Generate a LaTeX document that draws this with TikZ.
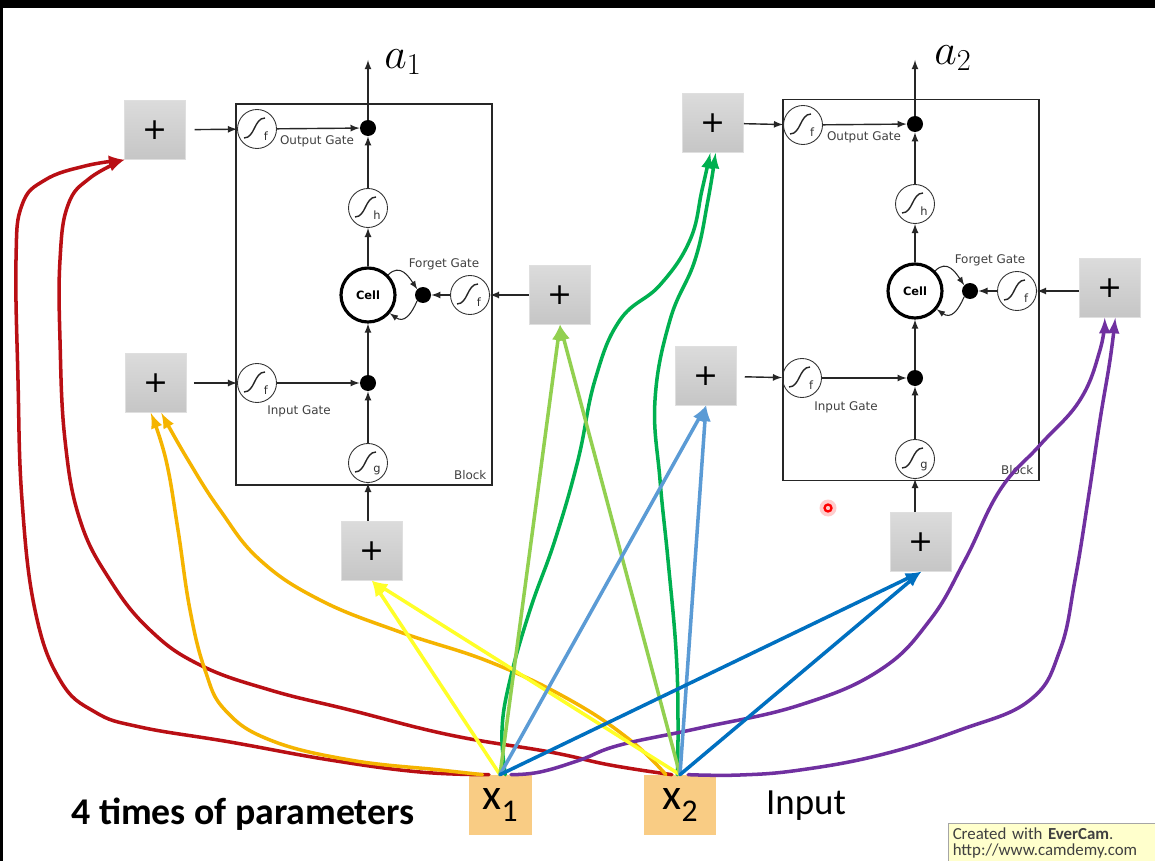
\documentclass[tikz,border=0pt]{standalone}
\usepackage{fontspec}
\newfontfamily\carl{Carlito}
\newfontfamily\dejavu{DejaVu Sans}
\usetikzlibrary{arrows}

\definecolor{xfill}{RGB}{249,204,132}
\definecolor{wmfill}{RGB}{255,255,204}
\definecolor{redc}{RGB}{185,15,20}
\definecolor{orangec}{RGB}{245,180,0}
\definecolor{yellowc}{RGB}{255,255,40}
\definecolor{lgreenc}{RGB}{146,208,80}
\definecolor{dgreenc}{RGB}{0,176,80}
\definecolor{lbluec}{RGB}{91,155,213}
\definecolor{dbluec}{RGB}{0,112,192}
\definecolor{purplec}{RGB}{112,48,160}

\tikzstyle{lstmblock} = [
    rectangle,
    minimum width=5.12cm,
    minimum height=7.62cm,
    line width=0.7pt,
    draw=black!85
]
\tikzstyle{gate} = [
    circle,
    minimum size=0.78cm,
    inner sep=0pt,
    line width=0.5pt,
    draw=black!80
]
\tikzstyle{muldot} = [
    circle,
    minimum size=0.32cm,
    inner sep=0pt,
    fill=black
]
\tikzstyle{cellnode} = [
    circle,
    minimum size=1.08cm,
    inner sep=0pt,
    line width=1.8pt,
    draw=black,
    font=\dejavu\bfseries\fontsize{6.5}{8}\selectfont
]
\tikzstyle{plusbox} = [
    rectangle,
    minimum width=1.22cm,
    minimum height=1.18cm,
    draw=gray!25,
    top color=gray!28,
    bottom color=gray!45,
    font=\dejavu\fontsize{17}{17}\selectfont
]
\tikzstyle{xbox} = [
    rectangle,
    minimum width=1.26cm,
    minimum height=1.2cm,
    fill=xfill,
    font=\carl\fontsize{25}{25}\selectfont
]
\tikzstyle{gatetext} = [font=\dejavu\fontsize{6.8}{8}\selectfont, text=black!75]
\tikzstyle{sigtext} = [font=\dejavu\fontsize{6.5}{7}\selectfont, inner sep=0pt, text=black!80]
\tikzstyle{outtext} = [font=\fontsize{26}{28}\selectfont]
\tikzstyle{bigtext} = [font=\carl\fontsize{21}{23}\selectfont]
\tikzstyle{arrow} = [->, >=latex, line width=0.8pt, black!85]
\tikzstyle{hand} = [->, >=latex, line width=2pt, line cap=round, line join=round]

% sigmoid curve and letter inside a gate
\newcommand{\sgm}[2]{%
  \draw[line width=0.8pt, black!85] ([shift={(-13,9)}]#1.center)
    .. controls +(11,0) and +(-11,0) .. ([shift={(8,-11)}]#1.center);
  \node[sigtext] at ([shift={(9,7)}]#1.center) {#2};
}

\begin{document}
\begin{tikzpicture}[x=0.02cm, y=-0.02cm]
\useasboundingbox (0,0) rectangle (1155,861);
\fill[white] (0,0) rectangle (1155,861);
\fill[black] (0,0) rectangle (1155,8);
\fill[black] (0,0) rectangle (3,861);

% block 1
\node (b1) [lstmblock] at (364,294.5) {};
\node (o1) [gate] at (257,129) {};
\node (od1) [muldot] at (368,128) {};
\node (h1) [gate] at (368,208) {};
\node (c1) [cellnode] at (368,295) {Cell};
\node (fd1) [muldot] at (423,295) {};
\node (f1) [gate] at (470,295) {};
\node (i1) [gate] at (257,383) {};
\node (id1) [muldot] at (368,383) {};
\node (g1) [gate] at (368,463) {};
\sgm{o1}{f}
\sgm{h1}{h}
\sgm{f1}{f}
\sgm{i1}{f}
\sgm{g1}{g}
\node [gatetext] at (317,141) {Output Gate};
\node [gatetext] at (444,264) {Forget Gate};
\node [gatetext] at (299,411) {Input Gate};
\node [gatetext, anchor=south east] at (b1.south east) {Block};

\node (pO1) [plusbox] at (155,130) {+};
\node (pI1) [plusbox] at (156,383) {+};
\node (pF1) [plusbox] at (560,295) {+};
\node (pB1) [plusbox] at (372,551) {+};

\coordinate (a1) at (368,60);
\node [outtext] at (403,62) {$a_1$};

\draw [arrow, shorten <=5pt] (pO1) -- (o1);
\draw [arrow] (o1) -- (od1);
\draw [arrow] (h1) -- (od1);
\draw [arrow] (od1) -- (a1);
\draw [arrow] (c1) -- (h1);
\draw [arrow] (id1) -- (c1);
\draw [arrow] (g1) -- (id1);
\draw [arrow] (g1 |- pB1.north) -- (g1);
\draw [arrow, shorten <=4pt] (pI1) -- (i1);
\draw [arrow] (i1) -- (id1);
\draw [arrow] (pF1) -- (f1);
\draw [arrow] (f1) -- (fd1);
\draw [arrow, line width=0.6pt] (c1.45) .. controls +(12,-12) and +(-8,-12) .. (fd1.135);
\draw [arrow, line width=0.6pt] (fd1.225) .. controls +(-6,14) and +(14,10) .. (c1.-40);

% block 2
\node (b2) [lstmblock] at (911,290) {};
\node (o2) [gate] at (803,125) {};
\node (od2) [muldot] at (915,124) {};
\node (h2) [gate] at (915,204) {};
\node (c2) [cellnode] at (915,291) {Cell};
\node (fd2) [muldot] at (970,291) {};
\node (f2) [gate] at (1017,291) {};
\node (i2) [gate] at (802,378) {};
\node (id2) [muldot] at (915,378) {};
\node (g2) [gate] at (915,459) {};
\sgm{o2}{f}
\sgm{h2}{h}
\sgm{f2}{f}
\sgm{i2}{f}
\sgm{g2}{g}
\node [gatetext] at (864,137) {Output Gate};
\node [gatetext] at (990,260) {Forget Gate};
\node [gatetext] at (846,407) {Input Gate};
\node [gatetext, anchor=south east] at (b2.south east) {Block};

\node (pO2) [plusbox] at (713,123) {+};
\node (pI2) [plusbox] at (706,376) {+};
\node (pF2) [plusbox] at (1110,288) {+};
\node (pB2) [plusbox] at (921,542) {+};

\coordinate (a2) at (915,60);
\node [outtext] at (953,58) {$a_2$};

\draw [arrow] (pO2) -- (o2);
\draw [arrow] (o2) -- (od2);
\draw [arrow] (h2) -- (od2);
\draw [arrow] (od2) -- (a2);
\draw [arrow] (c2) -- (h2);
\draw [arrow] (id2) -- (c2);
\draw [arrow] (g2) -- (id2);
\draw [arrow] (g2 |- pB2.north) -- (g2);
\draw [arrow, shorten <=4.5pt] (pI2) -- (i2);
\draw [arrow] (i2) -- (id2);
\draw [arrow] (pF2.west |- f2) -- (f2);
\draw [arrow] (f2) -- (fd2);
\draw [arrow, line width=0.6pt] (c2.45) .. controls +(12,-12) and +(-8,-12) .. (fd2.135);
\draw [arrow, line width=0.6pt] (fd2.225) .. controls +(-6,14) and +(14,10) .. (c2.-40);

% inputs and texts
\node (x1) [xbox] at (500,805) {x\raisebox{-0.6ex}{\fontsize{18}{18}\selectfont 1}};
\node (x2) [xbox, minimum width=1.44cm] at (680,805) {x\raisebox{-0.6ex}{\fontsize{18}{18}\selectfont 2}};
\node [bigtext, font=\carl\bfseries\fontsize{21.5}{23}\selectfont] at (243,814) {4 times of parameters};
\node [bigtext] at (806,806) {Input};

% cursor
\fill[red!20] (828,508) circle (0.17cm);
\draw[red, line width=1.3pt] (828,508) circle (0.07cm);

% hand drawn connections
\draw [hand, redc] plot[smooth, tension=0.7] coordinates {(x1.110) (420,772) (330,760) (230,742) (140,727) (95,712) (60,680) (35,610) (22,500) (18,380) (16,260) (22,205) (45,180) (85,166) (pO1.south west)};
\draw [hand, redc] plot[smooth, tension=0.7] coordinates {(x2.105) (610,765) (550,752) (450,735) (350,710) (270,690) (200,665) (150,630) (110,580) (80,520) (65,440) (60,340) (60,260) (68,205) (90,178) (pO1.south west)};
\draw [hand, orangec] plot[smooth, tension=0.7] coordinates {(x1.120) (440,770) (350,760) (270,740) (225,710) (205,670) (190,610) (178,530) (166,460) (pI1.-100)};
\draw [hand, orangec] plot[smooth, tension=0.7] coordinates {(x2.115) (630,740) (570,700) (490,662) (400,632) (320,600) (260,560) (220,510) (188,460) (pI1.-80)};
\draw [hand, dgreenc] plot[smooth, tension=0.7] coordinates {(x1.80) (502,730) (510,680) (530,610) (555,540) (578,460) (595,380) (620,320) (660,285) (690,240) (702,190) (pO2.-95)};
\draw [hand, dgreenc] plot[smooth, tension=0.7] coordinates {(x2.95) (678,720) (676,650) (668,560) (660,480) (655,400) (670,320) (695,260) (708,200) (pO2.-85)};
\draw [hand, purplec] plot[smooth, tension=0.7] coordinates {(x1.70) (540,772) (580,760) (620,745) (700,728) (800,705) (880,670) (930,620) (965,560) (1000,490) (1040,445) (1080,400) (1100,350) (pF2.-100)};
\draw [hand, purplec] plot[smooth, tension=0.7] coordinates {(x2.75) (740,775) (800,770) (880,755) (960,730) (1030,700) (1060,650) (1075,580) (1088,500) (1100,420) (1110,360) (pF2.-80)};

\draw [hand, yellowc] (x1.north) -- (pB1.south);
\draw [hand, yellowc] (x2.north) -- (pB1.south);
\draw [hand, lgreenc] (x1.north) -- (pF1.south);
\draw [hand, lgreenc] (x2.north) -- (pF1.south);
\draw [hand, lbluec] (x1.north) -- (pI2.south);
\draw [hand, lbluec] (x2.north) -- (pI2.south);
\draw [hand, dbluec] (x1.north) -- (pB2.south);
\draw [hand, dbluec] (x2.north) -- (pB2.south);

% watermark
\node (wm) [draw=gray!70, fill=wmfill, anchor=north west, align=left, inner sep=2.5pt,
    text width=4.05cm, font=\carl\fontsize{9.6}{9.2}\selectfont, text=black!75]
    at (948,823) {Created with \textbf{EverCam}.\\http://www.camdemy.com};

\end{tikzpicture}
\end{document}
